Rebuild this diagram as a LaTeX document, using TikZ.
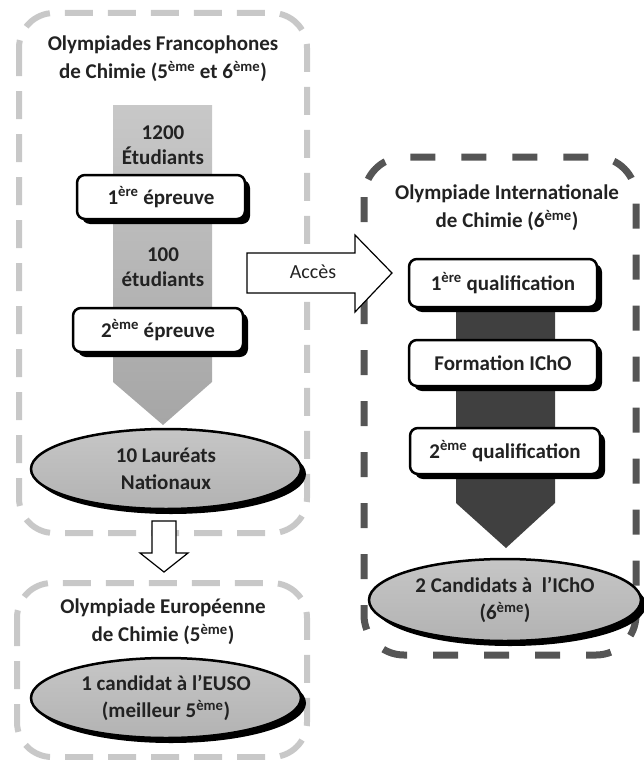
\documentclass[tikz,border=0pt]{standalone}
\usepackage{fontspec}
\setmainfont{Carlito}
\usetikzlibrary{positioning, shapes.geometric, shadows}

\definecolor{grisclair}{HTML}{C8C8C8}
\definecolor{grisfonce}{HTML}{555555}
\definecolor{encre}{HTML}{222222}

\tikzset{
    cadreclair/.style={draw=grisclair, line width=6pt, rounded corners=35pt,
        dash pattern=on 28pt off 15pt},
    cadrefonce/.style={draw=grisfonce, line width=7pt, rounded corners=40pt,
        dash pattern=on 25pt off 26pt},
    titre/.style={text=encre, font=\fontsize{21}{28}\selectfont\bfseries, align=center},
    etape/.style={draw=black, line width=2.5pt, fill=white, rounded corners=8pt,
        text=encre, font=\fontsize{21}{24}\selectfont\bfseries,
        general shadow={fill=black, shadow xshift=5pt, shadow yshift=-5pt}},
    resultat/.style={ellipse, draw=black, line width=2.5pt, inner sep=0pt,
        minimum width=270pt, minimum height=80pt, align=center,
        top color=gray!45, bottom color=gray!60, text=encre,
        font=\fontsize{21}{27}\selectfont\bfseries,
        general shadow={fill=black, shadow xshift=5pt, shadow yshift=-5pt}},
    effectif/.style={text=encre, font=\fontsize{21}{25}\selectfont\bfseries, align=center},
    fleche/.style={draw=black, line width=1.2pt, fill=white, line join=miter},
}

\begin{document}
\begin{tikzpicture}[x=1pt, y=-1pt]
    \useasboundingbox (0,0) rectangle (644,760);

    % cadres
    \draw[cadreclair] (19,13) rectangle (307,533);
    \draw[cadrefonce] (364,157) rectangle (636,655);
    \draw[cadreclair] (17,583) rectangle (307,757);

    % grosses fleches grises
    \path[top color=grisclair, bottom color=gray!70]
        (113,105) -- (212,105) -- (212,382) -- (163,425) -- (113,382) -- cycle;
    \fill[black!75] (456,290) -- (555,290) -- (555,503) -- (506,548) -- (456,503) -- cycle;

    % fleches blanches
    \draw[fleche] (247,253) -- (355,253) -- (355,235) -- (392,273)
        -- (355,312) -- (355,293) -- (247,293) -- cycle;
    \node[text=encre, font=\fontsize{20}{22}\selectfont] (acces) at (313,272) {Accès};
    \draw[fleche] (152,521) -- (176,521) -- (176,553) -- (188,553) -- (164,572)
        -- (140,553) -- (152,553) -- cycle;

    % olympiades francophones
    \node[titre] (ofc) at (163,59) {Olympiades Francophones\\de Chimie (5\textsuperscript{ème} et 6\textsuperscript{ème})};
    \node[effectif] (n1200) at (163,145) {1200\\Étudiants};
    \node[etape, minimum width=168pt, minimum height=44pt] (epreuve1) at (161,197) {1\textsuperscript{ère} épreuve};
    \node[effectif] (n100) at (163,267) {100\\étudiants};
    \node[etape, minimum width=170pt, minimum height=44pt] (epreuve2) at (158,330) {2\textsuperscript{ème} épreuve};
    \node[resultat] (laureats) at (166,469) {10 Lauréats\\Nationaux};

    % olympiade europeenne
    \node[titre] (oec) at (163,622) {Olympiade Européenne\\de Chimie (5\textsuperscript{ème})};
    \node[resultat] (euso) at (166,698) {1 candidat à l’EUSO\\(meilleur 5\textsuperscript{ème})};

    % olympiade internationale
    \node[titre] (oic) at (507,208) {Olympiade Internationale\\de Chimie (6\textsuperscript{ème})};
    \node[etape, minimum width=188pt, minimum height=48pt] (qualif1) at (503,283) {1\textsuperscript{ère} qualification};
    \node[etape, minimum width=188pt, minimum height=46pt] (formation) at (503,363) {Formation IChO};
    \node[etape, minimum width=190pt, minimum height=46pt] (qualif2) at (505,451) {2\textsuperscript{ème} qualification};
    \node[resultat, minimum width=272pt, minimum height=82pt] (icho) at (505,600) {2 Candidats à~ l’IChO\\(6\textsuperscript{ème})};
\end{tikzpicture}
\end{document}
